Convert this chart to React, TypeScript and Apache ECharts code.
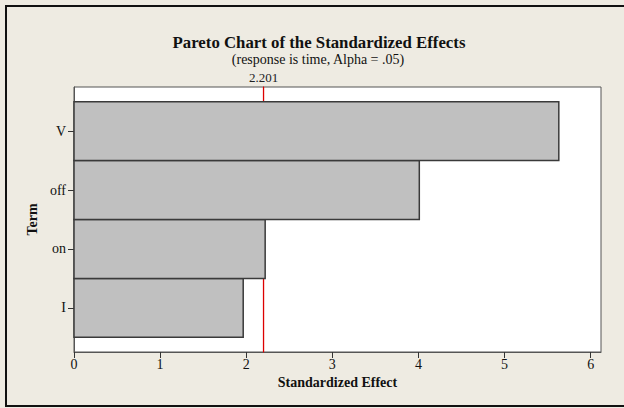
import React, { useEffect, useRef } from "react";
import * as echarts from "echarts";

const terms = ["I", "on", "off", "V"];
const effects = [1.965, 2.22, 4.01, 5.63];
const positions = [1, 2, 3, 4];
const yRange = [0.25, 4.75];
const criticalValue = 2.201;
const titleText = "Pareto Chart of the Standardized Effects";
const subtitleText = "(response is time, Alpha = .05)";
const xName = "Standardized Effect";
const yName = "Term";

const FONT = "'Liberation Serif', 'DejaVu Serif', serif";

export default function App() {
  const ref = useRef<HTMLDivElement>(null);

  useEffect(() => {
    if (!ref.current) return;
    const chart = echarts.init(ref.current, undefined, { renderer: "svg" });
    const data = terms.map((t, i) => [effects[i], positions[i]]);
    chart.setOption({
      animation: false,
      backgroundColor: "#eeebe2",
      textStyle: { fontFamily: FONT },
      title: [
        {
          text: titleText,
          left: 314,
          top: 29,
          textAlign: "center",
          textStyle: { fontFamily: FONT, fontSize: 16.8, fontWeight: "bold", color: "#111" },
        },
        {
          text: subtitleText,
          left: 313,
          top: 47,
          textAlign: "center",
          textStyle: { fontFamily: FONT, fontSize: 14, fontWeight: "normal", color: "#111" },
        },
      ],
      graphic: [
        {
          type: "rect",
          shape: { x: 6, y: 6, width: 720, height: 400 },
          style: { fill: "none", stroke: "#111", lineWidth: 2 },
          silent: true,
          z: -1,
        },
      ],
      grid: {
        left: 74,
        top: 87,
        right: 23,
        bottom: 56,
        show: true,
        backgroundColor: "#ffffff",
        borderColor: "#555",
        borderWidth: 1,
      },
      xAxis: {
        type: "value",
        min: 0,
        max: 6.12,
        interval: 1,
        name: xName,
        nameLocation: "middle",
        nameGap: 22,
        nameTextStyle: { fontFamily: FONT, fontSize: 14, fontWeight: "bold", color: "#111" },
        axisLine: { show: true, lineStyle: { color: "#555", width: 1 } },
        axisTick: { show: true, length: 6, lineStyle: { color: "#333" } },
        axisLabel: { fontFamily: FONT, fontSize: 14, color: "#111", margin: 5 },
        splitLine: { show: false },
      },
      yAxis: {
        type: "value",
        min: yRange[0],
        max: yRange[1],
        name: yName,
        nameLocation: "middle",
        nameGap: 31,
        nameTextStyle: { fontFamily: FONT, fontSize: 14, fontWeight: "bold", color: "#111" },
        axisLine: { show: true, lineStyle: { color: "#555", width: 1 } },
        axisTick: { show: true, length: 6, customValues: positions, lineStyle: { color: "#333" } },
        axisLabel: {
          customValues: positions,
          fontFamily: FONT,
          fontSize: 14,
          color: "#111",
          margin: 8,
          formatter: (v: number) => terms[Math.round(v) - 1] ?? "",
        },
        splitLine: { show: false },
      },
      series: [
        {
          type: "line",
          z: 1,
          silent: true,
          clip: false,
          symbol: "rect",
          symbolSize: 1,
          showSymbol: true,
          lineStyle: { color: "#dd0000", width: 1.3 },
          itemStyle: { color: "#dd0000" },
          data: [
            { value: [criticalValue, yRange[0]] },
            {
              value: [criticalValue, yRange[1]],
              label: {
                show: true,
                position: "top",
                distance: 3,
                formatter: String(criticalValue),
                fontFamily: FONT,
                fontSize: 13,
                color: "#222",
              },
            },
          ],
        },
        {
          type: "custom",
          z: 3,
          data,
          encode: { x: 0, y: 1 },
          renderItem: (params: any, api: any) => {
            const val = api.value(0) as number;
            const pos = api.value(1) as number;
            const start = api.coord([0, pos]);
            const end = api.coord([val, pos]);
            const h = api.size([0, 1])[1];
            return {
              type: "rect",
              shape: { x: start[0], y: start[1] - h / 2, width: end[0] - start[0], height: h },
              style: { fill: "#c0c0c0", stroke: "#3a3a3a", lineWidth: 1.5 },
            };
          },
        },
      ],
    });
    return () => chart.dispose();
  }, []);

  return (
    <div
      ref={ref}
      style={{ position: "fixed", left: 0, top: 0, width: 624, height: 408 }}
    />
  );
}
